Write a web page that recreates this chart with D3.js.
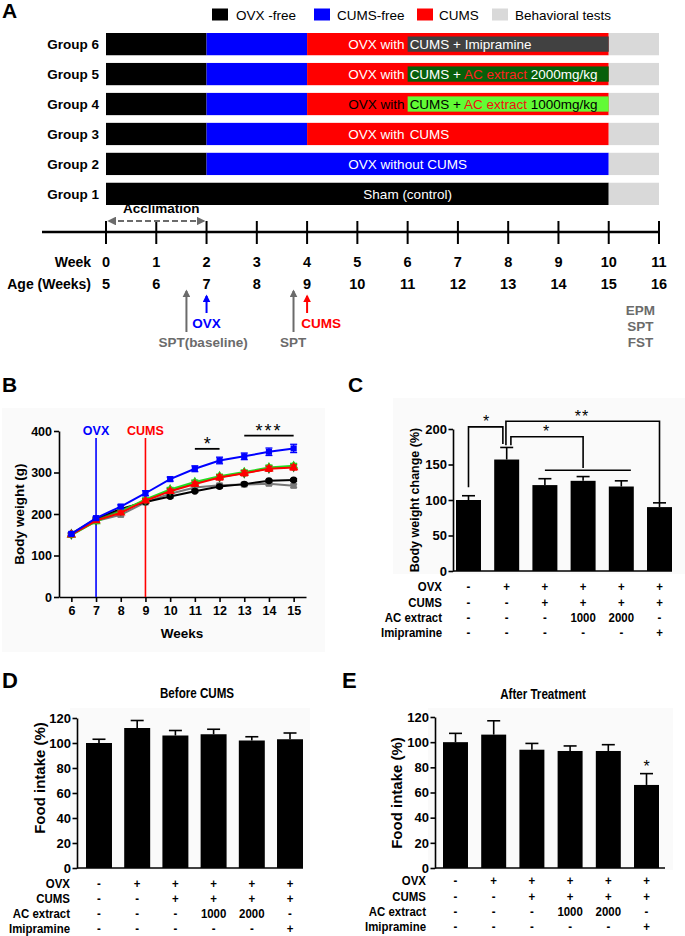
<!DOCTYPE html>
<html><head><meta charset="utf-8">
<script src="https://cdn.jsdelivr.net/npm/d3@7"></script>
<style>body{margin:0;background:#fff}svg{display:block}text{white-space:pre}</style>
</head><body><svg id="c" width="685" height="936"></svg>
<script>
// ================= DATA =================
// Panel A – study design
const legendLabels = ["OVX -free","CUMS-free","CUMS","Behavioral tests"];
const legendKeys   = ["ovxFree","cumsFree","cums","behav"];
const groupNames = ["Group 6","Group 5","Group 4","Group 3","Group 2","Group 1"];
const groupPhases = [
  [["ovxFree",0,2],["cumsFree",2,4],["cums",4,10],["behav",10,11]],
  [["ovxFree",0,2],["cumsFree",2,4],["cums",4,10],["behav",10,11]],
  [["ovxFree",0,2],["cumsFree",2,4],["cums",4,10],["behav",10,11]],
  [["ovxFree",0,2],["cumsFree",2,4],["cums",4,10],["behav",10,11]],
  [["ovxFree",0,2],["cumsFree",2,10],["behav",10,11]],
  [["ovxFree",0,10],["behav",10,11]]
];
const treatBoxes = [["Group 6",6,10,"#414141"],["Group 5",6,10,"#07600a"],["Group 4",6,10,"#62fb35"]];
const barTexts = [
  {g:"Group 6", left:[["OVX with","#fff"]], right:[["CUMS + Imipramine","#fff"]]},
  {g:"Group 5", left:[["OVX with","#fff"]], right:[["CUMS + ","#fff"],["AC extract","#ff2020"],[" 2000mg/kg","#fff"]]},
  {g:"Group 4", left:[["OVX with","#000"]], right:[["CUMS + ","#000"],["AC extract","#f01010"],[" 1000mg/kg","#000"]]},
  {g:"Group 3", left:[["OVX with","#fff"]], right:[["CUMS","#fff"]]},
  {g:"Group 2", center:[["OVX without CUMS","#fff"]]},
  {g:"Group 1", center:[["Sham (control)","#fff"]]}
];
const timelineWeeks = d3.range(0,12);
const ageWeeks = d3.range(5,17);
const events = [
  {week:1.6, kind:"long", color:"#6b6b6b", label:"SPT(baseline)", lw:1.93},
  {week:2,   kind:"short", color:"#0000ff", label:"OVX", lw:2},
  {week:3.73,kind:"long", color:"#6b6b6b", label:"SPT", lw:3.72},
  {week:4,   kind:"short", color:"#ff0000", label:"CUMS", lw:4.28}
];
const finalTests = ["EPM","SPT","FST"];

// Panel B – body weight (g)
const weeksB = [6,7,8,9,10,11,12,13,14,15];
const shamW  = [152,188,212,229,242,255,266,272,280,282];
const ovxW   = [152,190,218,250,284,309,329,339,350,358];
const cumsW  = [150,184,203,232,255,272,288,298,309,312];
const ac1000W= [149,182,206,235,259,277,291,301,312,316];
const ac2000W= [151,185,208,233,257,275,289,299,310,314];
const imipW  = [150,183,198,228,249,264,269,271,273,268];
const shamE  = [3,3,3,3,3,3,3,3,3,3];
const ovxE   = [3,4,4,6,5,7,8,8,9,10];
const cumsE  = [3,3,4,4,5,5,6,6,6,6];
const ac1000E= [3,3,4,4,5,5,5,5,6,6];
const ac2000E= [3,3,4,4,5,5,5,6,6,6];
const imipE  = [3,3,4,4,4,4,4,4,4,4];
const bTicksY = [0,100,200,300,400];
const bSig = [{x1:11,x2:12,y:357,label:"*"},{x1:13,x2:15,y:389,label:"***"}];

// Panels C, D, E – treatment table
const tableRows = ["OVX","CUMS","AC extract","Imipramine"];
const ovxRow  = ["-","+","+","+","+","+"];
const cumsRow = ["-","-","+","+","+","+"];
const acRow   = ["-","-","-","1000","2000","-"];
const imipRow = ["-","-","-","-","-","+"];
const barIdx = [0,1,2,3,4,5];

// Panel C – body weight change (%)
const cVals = [100,157,121,127,119,90];
const cErrs = [6,17,9,6,8,6];
const cTicks = [0,50,100,150,200];
// Panel D – food intake before CUMS (%)
const dVals = [100,112,106,107,102,103];
const dErrs = [3,6,4,4,3,5];
// Panel E – food intake after treatment (%)
const eVals = [100,106,94,93,93,66];
const eErrs = [7,11,5,4,5,9];
const foodTicks = [0,20,40,60,80,100,120];

// ================= DRAWING =================
const F = 'Arial, "Liberation Sans", Helvetica, sans-serif';
const svg = d3.select("#c");
const phaseColor = {ovxFree:"#000000", cumsFree:"#0000ff", cums:"#ff0000", behav:"#d9d9d9"};

function squeeze(sel, sx){
  sel.each(function(){
    const t = d3.select(this);
    const x = +(t.attr("x")||0);
    t.attr("x", x/sx).attr("transform", `scale(${sx},1)`);
  });
}
function T(g, x, y, s, o={}){
  const t = g.append("text").attr("x",x).attr("y",y).text(s)
    .attr("font-family",F).attr("font-size",o.size||13)
    .attr("font-weight",o.bold===false?"normal":"bold")
    .attr("fill",o.fill||"#000").attr("text-anchor",o.anchor||"start");
  if(o.ls) t.attr("letter-spacing",o.ls);
  if(o.sx) squeeze(t,o.sx);
  return t;
}

// ---------- Panel A ----------
const gA = svg.append("g");
T(gA, 2, 18, "A", {size:21});
const legX = [212,314,417,492], legTX=[236,337,439,515];
legendKeys.forEach((k,i)=>{
  gA.append("rect").attr("x",legX[i]).attr("y",8.5).attr("width",16).attr("height",12).attr("fill",phaseColor[k]);
  T(gA, legTX[i], 20, legendLabels[i], {size:13.5, bold:false});
});
const xA = d3.scaleLinear().domain([0,11]).range([106,659]);
const yA = d3.scaleBand().domain(groupNames).range([33,205]).paddingInner(0.257).paddingOuter(0);
const bw = yA.bandwidth();
groupNames.forEach((g,i)=>{
  groupPhases[i].forEach(([k,s,e])=>{
    gA.append("rect").attr("x",xA(s)).attr("y",yA(g)).attr("width",xA(e)-xA(s)).attr("height",bw).attr("fill",phaseColor[k]);
  });
  T(gA, 99, yA(g)+bw/2+5, g, {size:13.5, anchor:"end"});
});
treatBoxes.forEach(([g,s,e,c])=>{
  gA.append("rect").attr("x",xA(s)).attr("y",yA(g)+3.5).attr("width",xA(e)-xA(s)).attr("height",bw-7).attr("fill",c);
});
barTexts.forEach(bt=>{
  const y = yA(bt.g)+bw/2+4.8;
  const mk = (x, parts, anchor)=>{
    const t = gA.append("text").attr("x",x).attr("y",y).attr("font-family",F).attr("font-size",13.5).attr("text-anchor",anchor);
    parts.forEach(([s,c])=>t.append("tspan").attr("fill",c).text(s));
  };
  if(bt.left) mk(xA(6)-3, bt.left, "end");
  if(bt.right) mk(xA(6)+2, bt.right, "start");
  if(bt.center) mk(xA(6), bt.center, "middle");
});
// timeline
const yL = 232;
gA.append("line").attr("x1",42).attr("x2",xA(11)).attr("y1",yL).attr("y2",yL).attr("stroke","#000").attr("stroke-width",2.5);
timelineWeeks.forEach((w,i)=>{
  gA.append("line").attr("x1",xA(w)).attr("x2",xA(w)).attr("y1",221).attr("y2",244).attr("stroke","#000").attr("stroke-width",2);
  T(gA, xA(w), 267, String(w), {size:14.5, anchor:"middle"});
  T(gA, xA(w), 289, String(ageWeeks[i]), {size:14.5, anchor:"middle"});
});
T(gA, 91, 267, "Week", {size:14, anchor:"end"});
T(gA, 91, 289, "Age (Weeks)", {size:14, anchor:"end"});
// acclimation dashed double arrow
const defs = svg.append("defs");
function marker(id,color){
  defs.append("marker").attr("id",id).attr("viewBox","0 0 10 10").attr("refX",8).attr("refY",5)
    .attr("markerWidth",4).attr("markerHeight",4).attr("orient","auto-start-reverse")
    .append("path").attr("d","M0,0 L10,5 L0,10 z").attr("fill",color);
}
marker("mg","#6b6b6b"); marker("mb","#0000ff"); marker("mr","#ff0000");
gA.append("line").attr("x1",xA(0)+3).attr("x2",xA(2)-3).attr("y1",221).attr("y2",221)
  .attr("stroke","#6b6b6b").attr("stroke-width",2.2).attr("stroke-dasharray","6,3")
  .attr("marker-start","url(#mg)").attr("marker-end","url(#mg)");
T(gA, xA(1.1), 213, "Acclimation", {size:13.5, anchor:"middle"});
events.forEach(ev=>{
  const m = ev.color==="#0000ff"?"mb":ev.color==="#ff0000"?"mr":"mg";
  const y1 = ev.kind==="long"?332:313, y2 = ev.kind==="long"?291:296;
  gA.append("line").attr("x1",xA(ev.week)).attr("x2",xA(ev.week)).attr("y1",y1).attr("y2",y2)
    .attr("stroke",ev.color).attr("stroke-width",2).attr("marker-end",`url(#${m})`);
  T(gA, xA(ev.lw), ev.kind==="long"?347:328, ev.label, {size:13.5, anchor:"middle", fill:ev.color});
});
finalTests.forEach((s,i)=>T(gA, xA(10.63), 315+i*16, s, {size:13.5, anchor:"middle", fill:"#6b6b6b"}));

// ---------- Panel B ----------
const gB = svg.append("g");
gB.append("rect").attr("x",2).attr("y",408).attr("width",323).attr("height",244).attr("fill","#fafafa");
T(gB, 2, 392, "B", {size:21});
const xB = d3.scaleLinear().domain([5.5,15.5]).range([59,306]);
const yB = d3.scaleLinear().domain([0,400]).range([597,431]);
const axLB = gB.append("g").attr("transform","translate(59,0)")
  .call(d3.axisLeft(yB).tickValues(bTicksY).tickSize(5).tickSizeOuter(0).tickPadding(2));
const axBB = gB.append("g").attr("transform","translate(0,597)")
  .call(d3.axisBottom(xB).tickValues(weeksB).tickSize(5).tickSizeOuter(0).tickPadding(4).tickFormat(d3.format("d")));
[axLB,axBB].forEach(a=>{
  a.selectAll("path,line").attr("stroke","#000").attr("stroke-width",1.6);
  a.selectAll("text").attr("font-family",F).attr("font-size",12.5).attr("font-weight","bold").attr("fill","#000");
});
gB.append("text").attr("transform","translate(24,514) rotate(-90)").attr("text-anchor","middle")
  .attr("font-family",F).attr("font-size",13.5).attr("font-weight","bold").text("Body weight (g)");
T(gB, 182, 638, "Weeks", {size:13.5, anchor:"middle"});
// event lines
[[7,"#0000ff","OVX"],[9,"#ff0000","CUMS"]].forEach(([w,c,l])=>{
  gB.append("line").attr("x1",xB(w)).attr("x2",xB(w)).attr("y1",438).attr("y2",597).attr("stroke",c).attr("stroke-width",1.6);
  T(gB, xB(w), 435, l, {size:12.5, anchor:"middle", fill:c});
});
const seriesB = [
  {v:imipW, e:imipE, c:"#777777", shape:d3.symbolSquare},
  {v:shamW, e:shamE, c:"#000000", shape:d3.symbolCircle},
  {v:ac2000W, e:ac2000E, c:"#2f6d1f", shape:d3.symbolDiamond},
  {v:ac1000W, e:ac1000E, c:"#22dd22", shape:d3.symbolTriangle},
  {v:cumsW, e:cumsE, c:"#ff0000", shape:d3.symbolTriangle},
  {v:ovxW, e:ovxE, c:"#0000ff", shape:d3.symbolSquare}
];
const lineB = d3.line().x((d,i)=>xB(weeksB[i])).y(d=>yB(d));
seriesB.forEach(s=>{
  gB.append("path").attr("d",lineB(s.v)).attr("fill","none").attr("stroke",s.c).attr("stroke-width",2);
  s.v.forEach((v,i)=>{
    const x = xB(weeksB[i]);
    const yt = yB(v+s.e[i]), yb = yB(v-s.e[i]);
    gB.append("line").attr("x1",x).attr("x2",x).attr("y1",yt).attr("y2",yb).attr("stroke",s.c).attr("stroke-width",1.3);
    [yt,yb].forEach(yy=>gB.append("line").attr("x1",x-3.5).attr("x2",x+3.5).attr("y1",yy).attr("y2",yy).attr("stroke",s.c).attr("stroke-width",1.3));
    gB.append("path").attr("d",d3.symbol().type(s.shape).size(38)()).attr("transform",`translate(${x},${yB(v)})`).attr("fill",s.c);
  });
});
bSig.forEach(s=>{
  gB.append("line").attr("x1",xB(s.x1)).attr("x2",xB(s.x2)).attr("y1",yB(s.y)).attr("y2",yB(s.y)).attr("stroke","#000").attr("stroke-width",1.8);
  T(gB, (xB(s.x1)+xB(s.x2))/2, yB(s.y)+1, s.label, {size:18, anchor:"middle", ls:s.label.length>1?2:null, bold:false});
});

// ---------- generic bar panel ----------
function barPanel(o){
  const g = svg.append("g");
  if(o.bg) g.append("rect").attr("x",o.bg[0]).attr("y",o.bg[1]).attr("width",o.bg[2]).attr("height",o.bg[3]).attr("fill","#fafafa");
  const x = d3.scaleBand().domain(barIdx).range(o.band).paddingInner(o.pad).paddingOuter(0);
  const y = d3.scaleLinear().domain([0,o.ymax]).range([o.y0,o.y1]);
  const w = x.bandwidth();
  o.vals.forEach((v,i)=>{
    g.append("rect").attr("x",x(i)).attr("y",y(v)).attr("width",w).attr("height",y(0)-y(v)).attr("fill","#000");
    const cx = x(i)+w/2;
    g.append("line").attr("x1",cx).attr("x2",cx).attr("y1",y(v)).attr("y2",y(v+o.errs[i])).attr("stroke","#000").attr("stroke-width",1.6);
    g.append("line").attr("x1",cx-6.5).attr("x2",cx+6.5).attr("y1",y(v+o.errs[i])).attr("y2",y(v+o.errs[i])).attr("stroke","#000").attr("stroke-width",1.6);
  });
  const ax = g.append("g").attr("transform",`translate(${o.axisX},0)`)
    .call(d3.axisLeft(y).tickValues(o.ticks).tickSize(4.5).tickSizeOuter(0).tickPadding(1.5));
  ax.selectAll("path,line").attr("stroke","#000").attr("stroke-width",1.6);
  ax.selectAll("text").attr("font-family",F).attr("font-size",13).attr("font-weight","bold").attr("fill","#000");
  g.append("line").attr("x1",o.axisX).attr("x2",o.axisEnd).attr("y1",o.y0).attr("y2",o.y0).attr("stroke","#000").attr("stroke-width",1.6);
  g.append("text").attr("transform",`translate(${o.ylx},${o.yly}) rotate(-90)`).attr("text-anchor","middle")
    .attr("font-family",F).attr("font-size",o.ylSize).attr("font-weight","bold").text(o.ylabel);
  // table
  const rows = [ovxRow,cumsRow,acRow,imipRow];
  tableRows.forEach((r,ri)=>{
    const by = o.tb[ri];
    T(g, o.tlx, by, r, {size:13, anchor:"end", sx:0.88});
    rows[ri].forEach((s,i)=>T(g, x(i)+w/2, by, s, {size:13, anchor:"middle", sx:0.88}));
  });
  const pos = f => x(0)+w/2 + f*x.step();
  return {g,x,y,w,pos};
}

// ---------- Panel C ----------
const C = barPanel({vals:cVals, errs:cErrs, band:[456,672], pad:0.346, ymax:200, y0:571, y1:429, ticks:cTicks,
  axisX:453, axisEnd:672, ylabel:"Body weight change (%)", ylx:419, yly:500, ylSize:12.5,
  tlx:442, tb:[591.5,607,622,637.5], bg:[393,398,292,176]});
T(C.g, 348, 392, "C", {size:21});
const bracketsC = [
  {pts:[[0,118],[0,203],[0.9,203],[0.9,179]], label:"*", lx:0.46},
  {pts:[[0.98,177],[0.98,211],[5,211],[5,96]], label:"**", lx:2.97},
  {pts:[[1.11,177],[1.11,189],[3,189],[3,145]], label:"*", lx:2.03}
];
bracketsC.forEach(b=>{
  C.g.append("path").attr("d",d3.line().x(p=>C.pos(p[0])).y(p=>C.y(p[1]))(b.pts)).attr("fill","none").attr("stroke","#000").attr("stroke-width",1.6);
  T(C.g, C.pos(b.lx), C.y(b.pts[1][1])+0.5, b.label, {size:16, anchor:"middle", bold:false, ls:b.label.length>1?1:null});
});
const hlineC = {from:2, to:4.25, y:142};
C.g.append("line").attr("x1",C.pos(hlineC.from)).attr("x2",C.pos(hlineC.to)).attr("y1",C.y(hlineC.y)).attr("y2",C.y(hlineC.y)).attr("stroke","#000").attr("stroke-width",1.6);

// ---------- Panel D ----------
const D = barPanel({vals:dVals, errs:dErrs, band:[86,303], pad:0.32, ymax:120, y0:868, y1:718, ticks:foodTicks,
  axisX:77, axisEnd:303, ylabel:"Food intake (%)", ylx:45, yly:778, ylSize:15,
  tlx:70, tb:[888,903,918,933], bg:[70,708,240,162]});
T(D.g, 2, 688, "D", {size:22});
T(D.g, 197, 698, "Before CUMS", {size:14.5, anchor:"middle", sx:0.8});

// ---------- Panel E ----------
const E = barPanel({vals:eVals, errs:eErrs, band:[443,659], pad:0.346, ymax:120, y0:868, y1:717, ticks:foodTicks,
  axisX:435, axisEnd:665, ylabel:"Food intake (%)", ylx:402, yly:793, ylSize:15,
  tlx:426, tb:[885.5,901,916,931], bg:[428,708,245,162]});
T(E.g, 342, 688, "E", {size:22});
T(E.g, 543, 699, "After Treatment", {size:14.5, anchor:"middle", sx:0.8});
T(E.g, E.pos(5), E.y(eVals[5]+eErrs[5])-2, "*", {size:16, anchor:"middle", bold:false});
</script></body></html>
